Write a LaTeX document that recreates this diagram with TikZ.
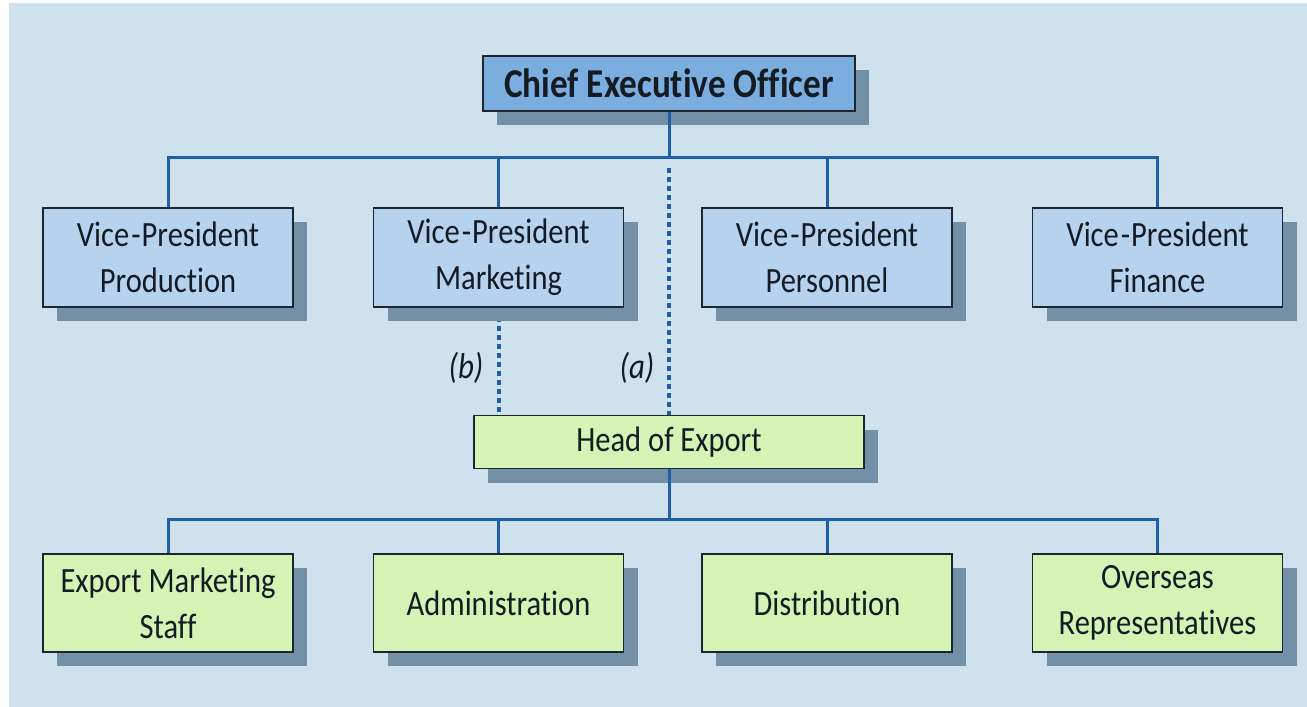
\documentclass[tikz,border=0pt]{standalone}
\usepackage{fontspec}
\setmainfont[Ligatures=NoCommon]{Carlito}
\newfontfamily\condfont[FakeStretch=0.86,Ligatures=NoCommon]{Carlito}
\usetikzlibrary{shadows}
\definecolor{bgc}{HTML}{CFE1EC}
\definecolor{vpc}{HTML}{B5D3EF}
\definecolor{ceoc}{HTML}{7BADDF}
\definecolor{greenc}{HTML}{D4F3B4}
\definecolor{shadowc}{HTML}{7391A6}
\definecolor{linec}{HTML}{1F5EA8}
\definecolor{borderc}{HTML}{1B2630}
\definecolor{textc}{HTML}{141B22}
\pgfdeclarelayer{bglayer}
\pgfdeclarelayer{backlayer}
\pgfsetlayers{bglayer,backlayer,main}
\newcommand{\VP}{Vice\kern2pt-\kern1pt President}
\begin{document}
\begin{tikzpicture}[x=1pt,y=-1pt,
  box/.style={draw=borderc, line width=1.6pt, align=center, text=textc, inner sep=0pt,
    font=\condfont\fontsize{35.5}{46}\selectfont,
    drop shadow={shadow xshift=14pt, shadow yshift=-14pt, fill=shadowc, opacity=1}},
  vpbox/.style={box, fill=vpc, minimum width=250pt, minimum height=99pt},
  gbox/.style={box, fill=greenc, minimum width=250pt, minimum height=98pt},
  ceobox/.style={box, fill=ceoc, minimum width=372pt, minimum height=55pt,
    font=\condfont\bfseries\fontsize{41}{42}\selectfont},
  hoebox/.style={box, fill=greenc, minimum width=390pt, minimum height=53pt},
  conn/.style={draw=linec, line width=3pt},
  dconn/.style={draw=linec, line width=4pt, dash pattern=on 5pt off 4pt},
  lab/.style={text=textc, font=\condfont\itshape\fontsize{36}{40}\selectfont, inner sep=0pt}
]
\useasboundingbox (0,0) rectangle (1307,707);
\begin{pgfonlayer}{bglayer}
  \fill[bgc] (9,3) rectangle (1307,707);
\end{pgfonlayer}

\node[ceobox] (ceo) at (669,83.5) {Chief Executive Officer};

\node[vpbox] (vp1) at (168,257.5) {\VP\\Production};
\node[vpbox] (vp2) at (498.5,257.5) {\VP\\Marketing};
\node[vpbox] (vp3) at (827,257.5) {\VP\\Personnel};
\node[vpbox] (vp4) at (1157.5,257.5) {\VP\\Finance};

\node[hoebox] (hoe) at (669,442) {Head of Export};

\node[gbox] (b1) at (168,603) {Export Marketing\\Staff};
\node[gbox] (b2) at (498.5,603) {Administration};
\node[gbox] (b3) at (827,603) {Distribution};
\node[gbox] (b4) at (1157.5,603) {Overseas\\Representatives};

\coordinate (bus1) at (669,157);
\coordinate (bus2) at (669,519);

\node[lab] (lb) at (466,368) {(b)};
\node[lab] (la) at (637,368) {(a)};

% top bus
\draw[conn] (ceo.south) -- (ceo.south |- bus1);
\draw[conn] (vp1.north) -- (vp1.north |- bus1) -- (vp4.north |- bus1) -- (vp4.north);
\draw[conn] (vp2.north) -- (vp2.north |- bus1);
\draw[conn] (vp3.north) -- (vp3.north |- bus1);

% bottom bus
\draw[conn] (hoe.south) -- (hoe.south |- bus2);
\draw[conn] (b1.north) -- (b1.north |- bus2) -- (b4.north |- bus2) -- (b4.north);
\draw[conn] (b2.north) -- (b2.north |- bus2);
\draw[conn] (b3.north) -- (b3.north |- bus2);

% dotted links
\begin{pgfonlayer}{backlayer}
  \draw[dconn] ([yshift=-11pt]ceo.south |- bus1) -- (hoe.north);
  \draw[dconn] (vp2.south) -- (vp2.south |- hoe.north);
\end{pgfonlayer}
\end{tikzpicture}
\end{document}
